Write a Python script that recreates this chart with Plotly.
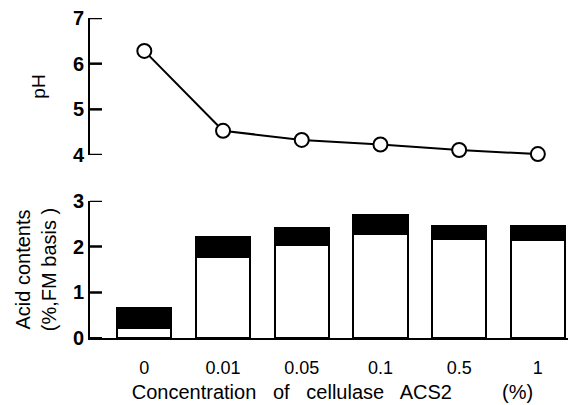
import plotly.graph_objects as go

categories = ["0", "0.01", "0.05", "0.1", "0.5", "1"]
ph_values = [6.28, 4.53, 4.33, 4.23, 4.11, 4.02]
acid_white = [0.22, 1.77, 2.04, 2.28, 2.17, 2.15]   # lower (white) segment
acid_black = [0.45, 0.43, 0.37, 0.41, 0.28, 0.30]   # upper (black) segment
ph_ticks = [4, 5, 6, 7]
acid_ticks = [0, 1, 2, 3]

xpos = list(range(len(categories)))

FONT = "Liberation Sans, Arial, sans-serif"
W, H = 568, 397
XDOM = [0.1444, 0.998]

fig = go.Figure()

fig.add_trace(go.Scatter(
    x=xpos, y=ph_values, mode="lines+markers",
    line=dict(color="black", width=2),
    marker=dict(symbol="circle", size=14, color="white",
                line=dict(color="black", width=2)),
    cliponaxis=False, xaxis="x2", yaxis="y2", showlegend=False))

fig.add_trace(go.Bar(
    x=xpos, y=acid_white, width=0.69,
    marker=dict(color="white", line=dict(color="black", width=2)),
    showlegend=False))
fig.add_trace(go.Bar(
    x=xpos, y=acid_black, width=0.69,
    marker=dict(color="black", line=dict(color="black", width=2)),
    showlegend=False))

# inward tick marks on both y axes (paper x, axis y)
tx0 = XDOM[0]
tx1 = XDOM[0] + 12 / W
for v in ph_ticks:
    fig.add_shape(type="line", xref="paper", yref="y2",
                  x0=tx0, x1=tx1, y0=v, y1=v,
                  line=dict(color="black", width=2.5), layer="above")
for v in acid_ticks:
    fig.add_shape(type="line", xref="paper", yref="y",
                  x0=tx0, x1=tx1, y0=v, y1=v,
                  line=dict(color="black", width=2.5), layer="above")

xrange = [-0.69, 5.47]
sp = "&nbsp;"
xtitle = f"Concentration{sp*2} of{sp*2} cellulase{sp*2} ACS2{sp*9}(%)"
yax_common = dict(ticks="", showline=True, linecolor="black", linewidth=2,
                  showgrid=False, zeroline=False, automargin=False,
                  ticklabeloverflow="allow",
                  tickfont=dict(size=20, weight="bold"))
fig.update_layout(
    width=W, height=H,
    margin=dict(l=0, r=0, t=0, b=0),
    paper_bgcolor="white", plot_bgcolor="white",
    barmode="stack",
    font=dict(family=FONT, color="black"),
    xaxis=dict(domain=XDOM, range=xrange, automargin=False,
               tickmode="array", tickvals=xpos, ticktext=categories,
               showline=True, linecolor="black", linewidth=2,
               ticks="", showgrid=False, zeroline=False,
               tickfont=dict(size=18), ticklabelstandoff=12,
               title=dict(text=xtitle, font=dict(size=20), standoff=8)),
    yaxis=dict(domain=[0.168, 0.5146], range=[0, 3], anchor="x",
               tickmode="array", tickvals=acid_ticks,
               title=dict(text="Acid contents<br>(%,FM basis )",
                          font=dict(size=20), standoff=11),
               **yax_common),
    xaxis2=dict(domain=XDOM, range=xrange, anchor="y2",
                showline=False, showticklabels=False, ticks="",
                showgrid=False, zeroline=False),
    yaxis2=dict(domain=[0.6297, 0.9748], range=[4, 7], anchor="x2",
                tickmode="array", tickvals=ph_ticks,
                title=dict(text="pH", font=dict(size=19), standoff=22),
                **yax_common),
)

fig.write_html("out.html")
